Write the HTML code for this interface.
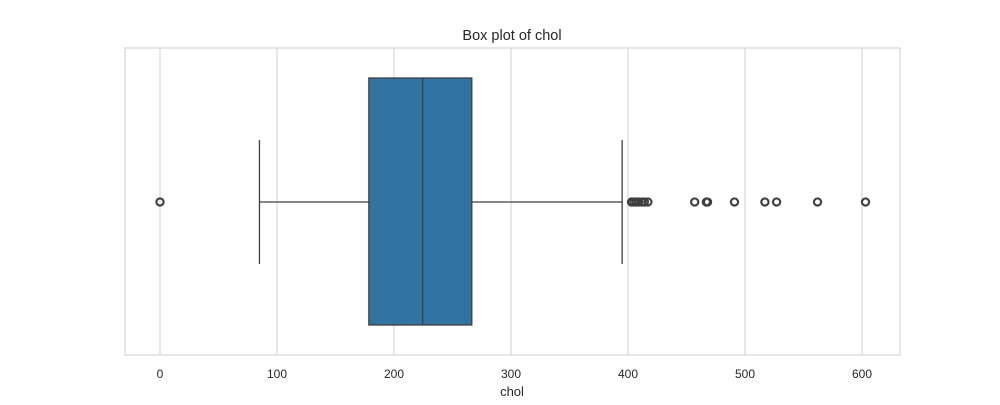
<!DOCTYPE html>
<html><head><meta charset="utf-8"><style>
body{margin:0;background:#fff;font-family:"Liberation Sans",sans-serif;}
svg text{font-family:"Liberation Sans",sans-serif;fill:#262626;}
</style></head><body>
<svg id="chart" width="1000" height="400"></svg>
<script>
const tickValues=[0,100,200,300,400,500,600];
const boxStats={whiskerLow:85,q1:178.5,median:224.5,q3:266.5,whiskerHigh:395};
const outliers=[0,403,405,407,409,412,414,417,457,467,468,491,517,527,562,603];
const L=125,R=900,T=48,B=355;
const x=v=>160+v*1.17;
const cy=202;
const svg=document.getElementById('chart');
const NS='http://www.w3.org/2000/svg';
function mk(tag,attrs,parent){const e=document.createElementNS(NS,tag);for(const k in attrs)e.setAttribute(k,attrs[k]);(parent||svg).appendChild(e);return e;}
tickValues.forEach(v=>{
 const g=mk('line',{x1:x(v),x2:x(v),y1:T,y2:B,stroke:'#cfcfcf','stroke-width':1});
 
 
 const t=mk('text',{x:x(v),y:378,'text-anchor':'middle','font-size':12});
 t.textContent=v;
 
 
});
const frame=mk('rect',{x:L,y:T,width:R-L,height:B-T,fill:'none',stroke:'#cfcfcf','stroke-width':1});


const s=boxStats,c='#3f3f3f';
const wl=mk('line',{x1:x(s.whiskerLow),x2:x(s.q1),y1:cy,y2:cy,stroke:c,'stroke-width':1.3});


const wh=mk('line',{x1:x(s.q3),x2:x(s.whiskerHigh),y1:cy,y2:cy,stroke:c,'stroke-width':1.3});


const cl=mk('line',{x1:x(s.whiskerLow),x2:x(s.whiskerLow),y1:140,y2:264,stroke:c,'stroke-width':1.3});


const ch=mk('line',{x1:x(s.whiskerHigh),x2:x(s.whiskerHigh),y1:140,y2:264,stroke:c,'stroke-width':1.3});


const box=mk('rect',{x:x(s.q1),y:78,width:x(s.q3)-x(s.q1),height:247,fill:'#3274a1',stroke:c,'stroke-width':1.3});


const med=mk('line',{x1:x(s.median),x2:x(s.median),y1:78,y2:325,stroke:c,'stroke-width':1.3});


outliers.forEach((v,i)=>{
 const o=mk('circle',{cx:x(v),cy:cy,r:3.6,fill:'none',stroke:c,'stroke-width':2.1});
 
 
});
const title=mk('text',{x:512,y:40,'text-anchor':'middle','font-size':14.5});
title.textContent='Box plot of chol';


const xl=mk('text',{x:512,y:396,'text-anchor':'middle','font-size':13});
xl.textContent='chol';


</script>
</body></html>
